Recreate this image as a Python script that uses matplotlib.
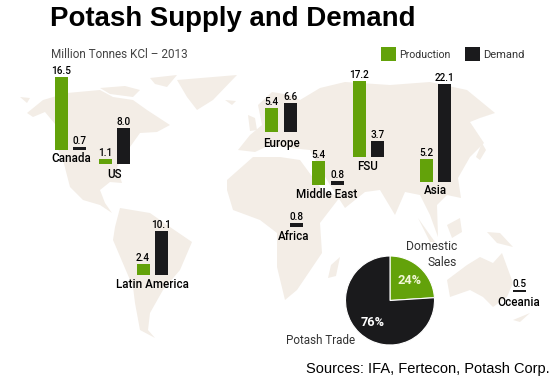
import matplotlib
matplotlib.use('Agg')
import matplotlib.pyplot as plt
from matplotlib.patches import Polygon, Rectangle

regions = ['Canada', 'US', 'Europe', 'FSU', 'Middle East', 'Asia', 'Latin America']
production = [16.5, 1.1, 5.4, 17.2, 5.4, 5.2, 2.4]
demand = [0.7, 8.0, 6.6, 3.7, 0.8, 22.1, 10.1]
single_regions = ['Africa', 'Oceania']
single_demand = [0.8, 0.5]
pie_labels = ['Domestic\nSales', 'Potash Trade']
pie_shares = [24, 76]

GREEN = '#63a20a'
BLACK = '#1a1a1c'
LAND = '#f3ede6'
UNIT = 4.4  # pixels per million tonnes

# layout, all in reference pixels
prod_left = [55, 99, 265, 353, 312, 420, 136.5]
dem_left = [73, 117, 284, 371, 331, 438, 155]
bases = [150, 163.5, 132, 157, 184.5, 181.5, 275]
name_pos = [(71, 159), (114, 174), (281, 143), (368, 167), (327, 194), (435, 191), (152, 284)]
single_left = [290, 513]
single_base = [226.5, 292]
single_name = [(294, 237), (519, 302)]

# rough outlines of the background map
land = [
    [(20, 97), (30, 98), (27, 103)],
    [(27, 113), (43, 100), (67, 93), (100, 90), (113, 97), (133, 100), (147, 110), (170, 125), (157, 132),
     (140, 133), (130, 147), (117, 167), (122, 183), (110, 182), (100, 190), (105, 203), (112, 213), (100, 205),
     (83, 200), (70, 187), (63, 160), (57, 147), (60, 130), (45, 112), (33, 117)],
    [(100, 88), (125, 86), (140, 90), (133, 97), (110, 94)],
    [(150, 78), (177, 75), (167, 87), (155, 84)],
    [(177, 80), (237, 75), (213, 100), (197, 110), (187, 97)],
    [(225, 100), (236, 101), (232, 105)],
    [(248, 115), (255, 118), (257, 130), (250, 131)],
    [(120, 208), (150, 213), (170, 227), (192, 242), (180, 270), (163, 290), (150, 313), (148, 330), (155, 338),
     (140, 330), (135, 303), (133, 287), (113, 240), (115, 227)],
    [(227, 180), (253, 157), (280, 157), (300, 160), (322, 190), (340, 197), (320, 223), (322, 253), (297, 290),
     (285, 300), (277, 267), (277, 233), (260, 220), (233, 210), (227, 190)],
    [(340, 257), (336, 276), (328, 278), (331, 265)],
    [(238, 150), (250, 135), (262, 125), (258, 105), (272, 92), (290, 95), (300, 100), (320, 88), (345, 82),
     (390, 85), (430, 82), (467, 90), (495, 113), (480, 118), (470, 122), (484, 143), (470, 157), (458, 178),
     (461, 198), (447, 195), (437, 205), (438, 237), (430, 215), (420, 195), (405, 192), (395, 215), (380, 190),
     (365, 192), (345, 208), (330, 185), (318, 165), (310, 150), (290, 148), (270, 145), (255, 152)],
    [(482, 143), (486, 150), (480, 160), (476, 157)],
    [(447, 225), (460, 218), (462, 232), (452, 238)],
    [(418, 218), (435, 242), (430, 242)],
    [(487, 232), (500, 233), (513, 247), (497, 243)],
    [(447, 280), (467, 265), (480, 257), (493, 263), (502, 253), (513, 283), (507, 297), (493, 307), (483, 297),
     (470, 290), (450, 297)],
    [(513, 320), (530, 313), (520, 322)],
]

fig = plt.figure(figsize=(5.59, 3.87), dpi=100)
ax = fig.add_axes([0, 0, 1, 1])
ax.set_xlim(0, 559)
ax.set_ylim(387, 0)
ax.axis('off')

for outline in land:
    ax.add_patch(Polygon(outline, closed=True, fc=LAND, ec='none', zorder=1))

font = 'Roboto'
BAR_W = 13

def bar(left, base, value, color):
    ax.bar(left, -value * UNIT, width=BAR_W, bottom=base, align='edge', color=color, zorder=2)
    ax.text(left + BAR_W / 2, base - value * UNIT - 1, f'{value:.1f}', ha='center', va='bottom',
            fontsize=7.2, family=font, fontweight='medium', color='black', zorder=3)

for i, name in enumerate(regions):
    bar(prod_left[i], bases[i], production[i], GREEN)
    bar(dem_left[i], bases[i], demand[i], BLACK)
    ax.text(name_pos[i][0], name_pos[i][1], name, ha='center', va='center', fontsize=8.4, family=font,
            fontweight='medium', color='black', zorder=3)

for i, name in enumerate(single_regions):
    bar(single_left[i], single_base[i], single_demand[i], BLACK)
    ax.text(single_name[i][0], single_name[i][1], name, ha='center', va='center', fontsize=8.4, family=font,
            fontweight='medium', color='black', zorder=3)

ax.text(50, 19, 'Potash Supply and Demand', ha='left', va='center', fontsize=19.9, fontweight='bold',
        family='Liberation Sans', color='black')
ax.text(51, 54, 'Million Tonnes KCl \u2013 2013', ha='left', va='center', fontsize=8.5, family=font,
        color='#444444')

# legend
ax.add_patch(Rectangle((381, 47), 15, 14, fc=GREEN, ec='none'))
ax.text(399, 54.5, 'Production', ha='left', va='center', fontsize=7.6, family=font, color='#333333')
ax.add_patch(Rectangle((465, 47), 15, 14, fc=BLACK, ec='none'))
ax.text(483, 54.5, 'Demand', ha='left', va='center', fontsize=8, family=font, color='#333333')

# pie, centred on (390, 300.5) with a 45 px radius
ax_pie = fig.add_axes([345.5 / 559, 1 - 345 / 387, 89 / 559, 89 / 387])
ax_pie.pie(pie_shares, colors=[GREEN, BLACK], startangle=90, counterclock=False, radius=1,
           wedgeprops={'edgecolor': 'white', 'linewidth': 0.8})
ax_pie.set_xlim(-1, 1)
ax_pie.set_ylim(-1, 1)
ax_pie.set_aspect('auto')

# the pie axes sits on top of the map axes, so its texts go there
ax_pie.text(409, 280, f'{pie_shares[0]}%', ha='center', va='center', fontsize=9.2, family=font, fontweight='bold',
            color='#f2f7d8', transform=ax.transData, clip_on=False)
ax_pie.text(373, 322, f'{pie_shares[1]}%', ha='center', va='center', fontsize=9.2, family=font, fontweight='bold',
            color='white', transform=ax.transData, clip_on=False)
ax_pie.text(457, 254.5, pie_labels[0], ha='right', va='center', fontsize=8.7, family=font,
            color='#333333', linespacing=1.25, transform=ax.transData, clip_on=False)
ax_pie.text(286, 340, pie_labels[1], ha='left', va='center', fontsize=8.4, family=font,
            color='#333333', transform=ax.transData, clip_on=False)

ax.text(306, 369.5, 'Sources: IFA, Fertecon, Potash Corp.', ha='left', va='center', fontsize=10.5,
        family='Liberation Sans', color='black', zorder=5)

fig.savefig('out.png', dpi=100)
